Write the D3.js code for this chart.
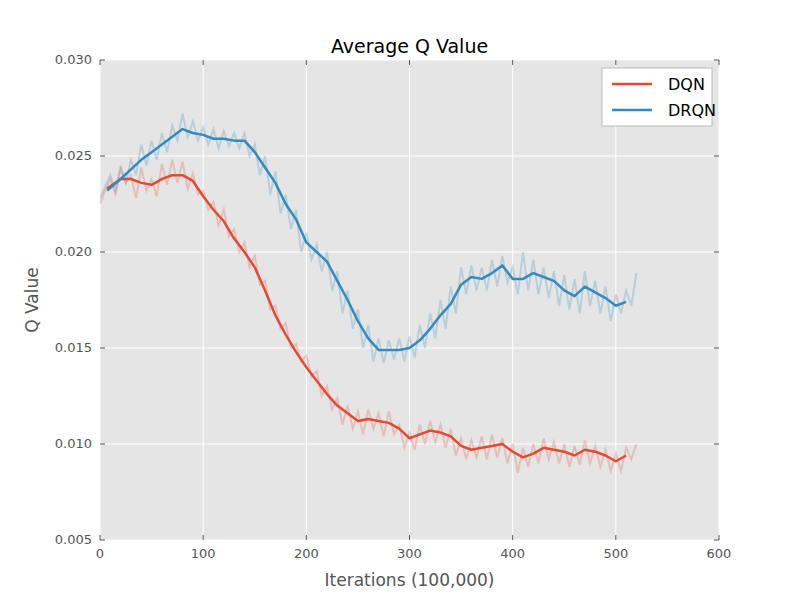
<!DOCTYPE html><html><head><meta charset="utf-8"><script src="https://cdn.jsdelivr.net/npm/d3@7"></script>
<style>body{margin:0;background:#fff}text{font-family:"DejaVu Sans",sans-serif}</style></head><body><svg id="c" width="800" height="600"></svg><script>
const xTicks=[0,100,200,300,400,500,600];
const yTicks=[0.005,0.010,0.015,0.020,0.025,0.030];
const rawX=d3.range(0,521,5);
const dqnRaw=[.0225,.0232,.0238,.0230,.0243,.0236,.0240,.0228,.0244,.0232,.0238,.0229,.0246,.0235,.0248,.0236,.0247,.0233,.0241,.0230,.0232,.0222,.0226,.0214,.0222,.0208,.0212,.0200,.0205,.0192,.0198,.0183,.0185,.0170,.0172,.0160,.0163,.0150,.0152,.0143,.0146,.0135,.0138,.0125,.0130,.0118,.0124,.0110,.0120,.0108,.0117,.0105,.0118,.0108,.0116,.0104,.0117,.0105,.0110,.0098,.0106,.0097,.0110,.0100,.0112,.0101,.0110,.0098,.0108,.0094,.0103,.0092,.0102,.0093,.0104,.0092,.0105,.0093,.0103,.0090,.0100,.0085,.0098,.0088,.0100,.0090,.0103,.0092,.0101,.0090,.0100,.0088,.0099,.0089,.0102,.0090,.0099,.0088,.0097,.0086,.0095,.0086,.0098,.0092,.0100];
const drqnRaw=[.0228,.0234,.0240,.0232,.0245,.0236,.0248,.0240,.0256,.0245,.0258,.0248,.0262,.0252,.0266,.0258,.0272,.0260,.0268,.0258,.0265,.0256,.0264,.0254,.0263,.0255,.0262,.0254,.0262,.0250,.0256,.0240,.0250,.0230,.0242,.0220,.0230,.0212,.0222,.0200,.0210,.0196,.0204,.0190,.0200,.0180,.0190,.0168,.0180,.0160,.0170,.0150,.0162,.0143,.0155,.0142,.0154,.0144,.0155,.0143,.0156,.0145,.0162,.0150,.0168,.0155,.0175,.0160,.0182,.0168,.0192,.0178,.0193,.0180,.0192,.0180,.0196,.0182,.0198,.0184,.0192,.0178,.0200,.0180,.0196,.0178,.0192,.0176,.0190,.0172,.0188,.0170,.0186,.0168,.0190,.0172,.0185,.0168,.0182,.0164,.0178,.0168,.0180,.0172,.0189];
const smX=[7,20,30,40,50,60,70,80,90,100,110,120,130,140,150,160,170,180,190,200,210,220,230,240,250,260,270,280,290,300,310,320,330,340,350,360,370,380,390,400,410,420,430,440,450,460,470,480,490,500,510];
const dqnSm=[.0233,.0238,.0238,.0236,.0235,.0238,.0240,.0240,.0237,.0229,.0222,.0216,.0207,.0200,.0192,.0180,.0167,.0157,.0148,.0140,.0133,.0126,.0120,.0116,.0112,.0113,.0112,.0111,.0108,.0103,.0105,.0107,.0106,.0104,.0099,.0097,.0098,.0099,.0100,.0096,.0093,.0095,.0098,.0097,.0096,.0094,.0097,.0096,.0094,.0091,.0094];
const drqnSm=[.0232,.0238,.0243,.0248,.0252,.0256,.0260,.0264,.0262,.0261,.0259,.0259,.0258,.0258,.0252,.0244,.0236,.0225,.0217,.0205,.0200,.0195,.0185,.0175,.0164,.0155,.0149,.0149,.0149,.0150,.0154,.0160,.0167,.0173,.0183,.0187,.0186,.0189,.0193,.0186,.0186,.0189,.0187,.0185,.0180,.0177,.0182,.0179,.0176,.0172,.0174];
const series=[{name:"DQN",color:"#E24A33",raw:dqnRaw,sm:dqnSm},{name:"DRQN",color:"#348ABD",raw:drqnRaw,sm:drqnSm}];
const L=100,R=719,T=60,B=540;
const svg=d3.select("#c");
const x=d3.scaleLinear().domain([0,600]).range([L,R]);
const y=d3.scaleLinear().domain([0.005,0.030]).range([B,T]);
svg.append("rect").attr("x",L).attr("y",T).attr("width",R-L).attr("height",B-T).attr("fill","#E5E5E5");
const g=svg.append("g");
xTicks.forEach(t=>g.append("line").attr("x1",x(t)).attr("x2",x(t)).attr("y1",T).attr("y2",B).attr("stroke","#fff"));
yTicks.forEach(t=>g.append("line").attr("x1",L).attr("x2",R).attr("y1",y(t)).attr("y2",y(t)).attr("stroke","#fff"));
svg.append("clipPath").attr("id","cp").append("rect").attr("x",L).attr("y",T).attr("width",R-L).attr("height",B-T);
const pg=svg.append("g").attr("clip-path","url(#cp)");
series.forEach(s=>{
 pg.append("path").attr("d",d3.line().x((d,i)=>x(rawX[i])).y(d=>y(d))(s.raw)).attr("fill","none").attr("stroke",s.color).attr("stroke-opacity",0.25).attr("stroke-width",2);
});
series.forEach(s=>{
 pg.append("path").attr("d",d3.line().x((d,i)=>x(smX[i])).y(d=>y(d))(s.sm)).attr("fill","none").attr("stroke",s.color).attr("stroke-width",2.5).attr("stroke-linejoin","round");
});
const ax=svg.append("g").attr("fill","#555").attr("font-size",13);
xTicks.forEach(t=>{
 ax.append("line").attr("x1",x(t)).attr("x2",x(t)).attr("y1",B).attr("y2",B-5).attr("stroke","#555");
 ax.append("line").attr("x1",x(t)).attr("x2",x(t)).attr("y1",T).attr("y2",T+5).attr("stroke","#555");
 ax.append("text").attr("x",x(t)).attr("y",B+18).attr("text-anchor","middle").text(t);
});
yTicks.forEach(t=>{
 ax.append("line").attr("x1",L).attr("x2",L+5).attr("y1",y(t)).attr("y2",y(t)).attr("stroke","#555");
 ax.append("line").attr("x1",R).attr("x2",R-5).attr("y1",y(t)).attr("y2",y(t)).attr("stroke","#555");
 ax.append("text").attr("x",L-8).attr("y",y(t)+4).attr("text-anchor","end").text(t.toFixed(3));
});
svg.append("text").attr("x",(L+R)/2).attr("y",53).attr("text-anchor","middle").attr("font-size",19).attr("fill","#000").text("Average Q Value");
svg.append("text").attr("x",(L+R)/2).attr("y",586).attr("text-anchor","middle").attr("font-size",17).attr("fill","#555").text("Iterations (100,000)");
svg.append("text").attr("transform",`translate(38,${(T+B)/2}) rotate(-90)`).attr("text-anchor","middle").attr("font-size",17).attr("fill","#555").text("Q Value");
const lg=svg.append("g");
lg.append("rect").attr("x",602).attr("y",68).attr("width",110).attr("height",58).attr("fill","#fff").attr("stroke","#bbb");
series.forEach((s,i)=>{
 const yy=84+i*26;
 lg.append("line").attr("x1",612).attr("x2",652).attr("y1",yy).attr("y2",yy).attr("stroke",s.color).attr("stroke-width",2.5);
 lg.append("text").attr("x",668).attr("y",yy+6).attr("font-size",16).attr("fill","#000").text(s.name);
});
</script></body></html>
